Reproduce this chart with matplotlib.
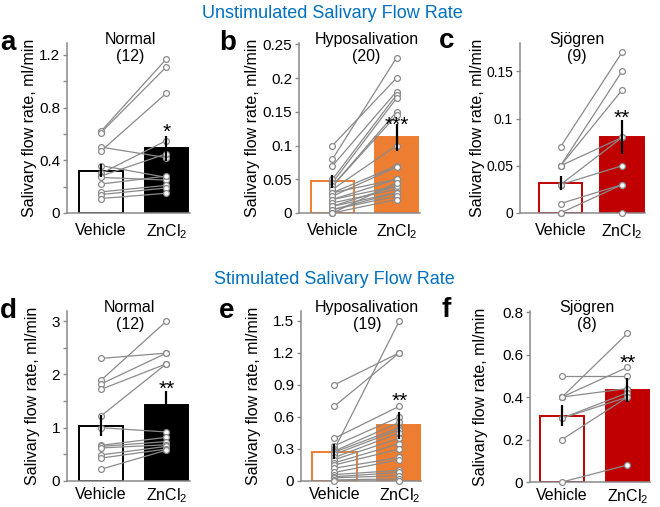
import matplotlib
matplotlib.use('Agg')
import matplotlib.pyplot as plt
import matplotlib.transforms as mtransforms

plt.rcParams['font.family'] = ['Liberation Sans', 'DejaVu Sans']
plt.rcParams['mathtext.fontset'] = 'custom'
plt.rcParams['mathtext.rm'] = 'Liberation Sans'
plt.rcParams['mathtext.it'] = 'Liberation Sans:italic'

# ---- data ----
groups = ['Vehicle', 'ZnCl$_2$']

# a: unstimulated, normal
veh_a = [0.62, 0.61, 0.50, 0.47, 0.36, 0.30, 0.28, 0.27, 0.22, 0.16, 0.14, 0.11]
zn_a = [1.17, 1.11, 0.42, 0.91, 0.27, 0.55, 0.45, 0.25, 0.28, 0.21, 0.19, 0.15]
mean_a = [0.32, 0.49]
sem_a = [0.05, 0.095]

# b: unstimulated, hyposalivation
veh_b = [0.10, 0.08, 0.07, 0.05, 0.045, 0.04, 0.04, 0.035, 0.03, 0.03,
         0.025, 0.02, 0.02, 0.015, 0.01, 0.01, 0.005, 0.005, 0.0, 0.0]
zn_b = [0.20, 0.23, 0.18, 0.175, 0.17, 0.15, 0.145, 0.10, 0.07, 0.05,
        0.068, 0.04, 0.05, 0.035, 0.04, 0.03, 0.03, 0.025, 0.045, 0.02]
mean_b = [0.047, 0.112]
sem_b = [0.01, 0.02]

# c: unstimulated, Sjogren
veh_c = [0.07, 0.05, 0.05, 0.05, 0.03, 0.03, 0.01, 0.0, 0.0]
zn_c = [0.17, 0.15, 0.13, 0.08, 0.08, 0.05, 0.03, 0.03, 0.0]
mean_c = [0.032, 0.080]
sem_c = [0.0075, 0.018]

# d: stimulated, normal
veh_d = [2.3, 1.89, 1.82, 1.72, 1.22, 1.0, 0.67, 0.65, 0.62, 0.49, 0.43, 0.22]
zn_d = [2.4, 3.0, 2.4, 2.2, 2.2, 0.92, 0.82, 0.74, 0.68, 0.65, 0.60, 0.58]
mean_d = [1.04, 1.42]
sem_d = [0.2, 0.27]

# e: stimulated, hyposalivation
veh_e = [0.90, 0.70, 0.40, 0.33, 0.30, 0.28, 0.27, 0.25, 0.22, 0.20,
         0.17, 0.15, 0.12, 0.08, 0.06, 0.04, 0.03, 0.01, 0.0]
zn_e = [1.20, 1.20, 0.70, 0.60, 1.50, 0.55, 0.50, 0.48, 0.45, 0.40,
        0.35, 0.30, 0.22, 0.20, 0.10, 0.08, 0.05, 0.02, 0.0]
mean_e = [0.275, 0.52]
sem_e = [0.07, 0.13]

# f: stimulated, Sjogren
veh_f = [0.5, 0.4, 0.4, 0.4, 0.3, 0.3, 0.2, 0.0]
zn_f = [0.5, 0.7, 0.54, 0.44, 0.42, 0.4, 0.4, 0.08]
mean_f = [0.312, 0.433]
sem_f = [0.05, 0.056]

letters = ['a', 'b', 'c', 'd', 'e', 'f']
names = ['Normal\n(12)', 'Hyposalivation\n(20)', 'Sjögren\n(9)',
         'Normal\n(12)', 'Hyposalivation\n(19)', 'Sjögren\n(8)']
stars = ['*', '***', '**', '**', '**', '**']
star_y = [0.66, 0.139, 0.107, 1.84, 0.806, 0.588]
yticks = [[0, 0.4, 0.8, 1.2], [0, 0.05, 0.1, 0.15, 0.2, 0.25], [0, 0.05, 0.1, 0.15],
          [0, 1, 2, 3], [0, 0.3, 0.6, 0.9, 1.2, 1.5], [0, 0.2, 0.4, 0.6, 0.8]]
ytlabels = [['0', '0.4', '0.8', '1.2'], ['0', '0.05', '0.1', '0.15', '0.2', '0.25'],
            ['0', '0.05', '0.1', '0.15'], ['0', '1', '2', '3'],
            ['0', '0.3', '0.6', '0.9', '1.2', '1.5'], ['0', '0.2', '0.4', '0.6', '0.8']]
minor = [[0.2, 0.6, 1.0], [], [], [0.5, 1.5, 2.5], [], []]

vehs = [veh_a, veh_b, veh_c, veh_d, veh_e, veh_f]
zns = [zn_a, zn_b, zn_c, zn_d, zn_e, zn_f]
means = [mean_a, mean_b, mean_c, mean_d, mean_e, mean_f]
sems = [sem_a, sem_b, sem_c, sem_d, sem_e, sem_f]

BLACK = 'black'
ORANGE = '#ED7D31'
RED = '#C00000'
BLUE = '#0070C0'
GRAY = '#8a8a8a'
colors = [BLACK, ORANGE, RED, BLACK, ORANGE, RED]

# ---- layout (pixels) ----
W, H = 660, 507
# left, right, top, bottom of axes
boxes = [(67, 190, 43, 213), (299, 420, 43, 213), (520, 645, 43, 213),
         (67, 190, 311, 481), (301, 421, 311, 481), (530, 650, 311, 482)]
ylims = [1.29, 0.252, 0.18, 3.19, 1.59, 0.805]
xlims = [(-0.519, 1.359), (-0.523, 1.367), (-0.659, 1.374),
         (-0.519, 1.359), (-0.515, 1.331), (-0.489, 1.344)]
widths = [0.67, 0.67, 0.70, 0.67, 0.68, 0.67]
title_x = [0.45, 0.53, 0.27, 0.44, 0.50, 0.38]
ylabel_px = [28, 251, 476, 31, 252, 479]
ytick_fs = [11, 11, 10, 11, 11, 11]
xpad = [7, 7, 7, 4, 4, 4]
letter_pos = [(0, 50), (219, 50), (439, 48), (0, 318), (219, 318), (441, 317)]

fig = plt.figure(figsize=(W / 100, H / 100), dpi=100)
fs = 11.5

for i in range(6):
    l, r, t, b = boxes[i]
    ax = fig.add_axes([l / W, 1 - b / H, (r - l) / W, (b - t) / H])
    col = colors[i]
    ax.bar([0, 1], means[i], width=widths[i], color=['white', col],
           edgecolor=col, linewidth=1.4, zorder=1)
    for v, z in zip(vehs[i], zns[i]):
        ax.plot([0, 1], [v, z], color=GRAY, lw=0.9, zorder=2)
    ax.plot([0] * len(vehs[i]), vehs[i], 'o', mfc='white', mec=GRAY, ms=4.2,
            mew=0.9, zorder=3, clip_on=False)
    ax.plot([1] * len(zns[i]), zns[i], 'o', mfc='white', mec=GRAY, ms=4.2,
            mew=0.9, zorder=3, clip_on=False)
    ax.errorbar([0, 1], means[i], yerr=sems[i], fmt='none', ecolor='k',
                elinewidth=1.6, capsize=0, zorder=4)
    ax.annotate(stars[i], (1, star_y[i]), xytext=(0, -8.5), textcoords='offset points',
                ha='center', va='baseline', fontsize=15)

    ax.set_xlim(*xlims[i])
    ax.set_ylim(0, ylims[i])
    ax.set_xticks([0, 1])
    ax.set_xticklabels(groups, fontsize=fs)
    ax.set_yticks(yticks[i])
    ax.set_yticklabels(ytlabels[i], fontsize=ytick_fs[i])
    ax.set_yticks(minor[i], minor=True)
    ax.tick_params(axis='x', length=0, pad=xpad[i])
    ax.tick_params(axis='y', which='both', length=3, width=1, color=GRAY,
                   direction='out', pad=2)
    for s in ['top', 'right']:
        ax.spines[s].set_visible(False)
    for s in ['left', 'bottom']:
        ax.spines[s].set_color(GRAY)
        ax.spines[s].set_linewidth(1.1)
    ax.set_ylabel('Salivary flow rate, ml/min', fontsize=fs)
    ax.yaxis.set_label_coords((ylabel_px[i] + 9 - l) / (r - l), 0.5)

    trans = mtransforms.blended_transform_factory(ax.transData, ax.transAxes)
    ax.text(title_x[i], 0.97, names[i], transform=trans, ha='center', va='center',
            fontsize=fs, linespacing=1.15)

    lx, ly = letter_pos[i]
    fig.text(lx / W, 1 - ly / H, letters[i], fontsize=20, fontweight='bold',
             ha='left', va='baseline')

fig.text(332 / W, 1 - 13 / H, 'Unstimulated Salivary Flow Rate', color=BLUE,
         fontsize=13, ha='center', va='center')
fig.text(334 / W, 1 - 280 / H, 'Stimulated Salivary Flow Rate', color=BLUE,
         fontsize=13, ha='center', va='center')

fig.savefig('out.png', dpi=100)
